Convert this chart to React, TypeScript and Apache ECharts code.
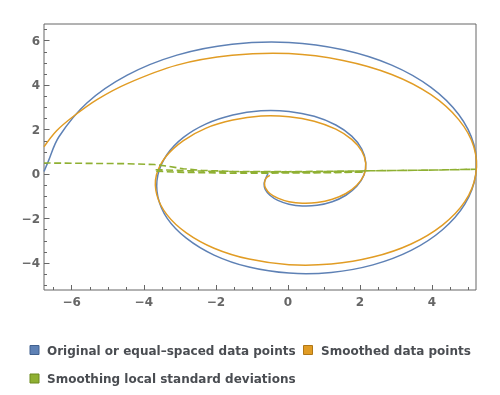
import React, { useEffect, useRef } from "react";
import * as echarts from "echarts";

// Original / equal-spaced data points (spiral)
const blueX = [-0.55, -0.62, -0.66, -0.63, -0.5, -0.28, 0.03, 0.4, 0.81, 1.23, 1.61, 1.91, 2.11, 2.16, 2.05, 1.77, 1.33, 0.73, 0.03, -0.75, -1.53, -2.27, -2.9, -3.36, -3.61, -3.61, -3.35, -2.82, -2.05, -1.08, 0.03, 1.2, 2.36, 3.42, 4.29, 4.91, 5.21, 5.16, 4.74, 3.97, 2.88, 1.53, 0.03, -1.55, -3.08, -4.46, -5.58, -6.36, -6.66, -6.77];
const blueY = [0.04, -0.21, -0.44, -0.69, -0.95, -1.18, -1.35, -1.43, -1.4, -1.24, -0.95, -0.55, -0.04, 0.53, 1.13, 1.71, 2.21, 2.6, 2.82, 2.85, 2.66, 2.26, 1.65, 0.87, -0.04, -1.01, -1.99, -2.88, -3.64, -4.18, -4.45, -4.42, -4.08, -3.43, -2.5, -1.35, -0.04, 1.34, 2.68, 3.9, 4.9, 5.59, 5.92, 5.84, 5.35, 4.45, 3.2, 1.67, 0.54, 0.12];

// Smoothed data points
const orangeX = [-0.5, -0.61, -0.65, -0.62, -0.5, -0.28, 0.03, 0.4, 0.81, 1.23, 1.61, 1.91, 2.11, 2.16, 2.05, 1.77, 1.33, 0.73, 0.03, -0.75, -1.53, -2.27, -2.9, -3.38, -3.65, -3.64, -3.36, -2.82, -2.05, -1.08, 0.03, 1.2, 2.36, 3.42, 4.29, 4.91, 5.21, 5.16, 4.74, 3.97, 2.88, 1.53, 0.03, -1.55, -3.08, -4.46, -5.3, -5.96, -6.42, -6.77];
const orangeY = [-0.06, -0.19, -0.4, -0.63, -0.87, -1.08, -1.24, -1.31, -1.28, -1.13, -0.87, -0.5, -0.04, 0.48, 1.03, 1.56, 2.02, 2.38, 2.58, 2.61, 2.43, 2.07, 1.51, 0.8, -0.04, -0.92, -1.82, -2.64, -3.33, -3.82, -4.07, -4.04, -3.73, -3.14, -2.29, -1.24, -0.04, 1.23, 2.45, 3.57, 4.48, 5.11, 5.42, 5.34, 4.9, 4.07, 3.35, 2.59, 1.95, 1.23];

// Smoothing local standard deviations
const greenX = [-0.55, -0.66, 0.0, 1.0, 2.11, 1.0, 0.0, -1.5, -2.9, -3.69, -3.69, -2.5, -1.0, 0.5, 2.3, 4.3, 5.21, 4.7, 2.9, 0.0, -1.5, -2.4, -2.9, -3.3, -3.7, -4.5, -6.77];
const greenY = [0.06, 0.07, 0.08, 0.08, 0.09, 0.06, 0.05, 0.04, 0.08, 0.13, 0.2, 0.14, 0.1, 0.1, 0.15, 0.19, 0.22, 0.2, 0.16, 0.11, 0.12, 0.17, 0.24, 0.35, 0.43, 0.47, 0.5];

const xMajorTicks = [-6, -4, -2, 0, 2, 4];
const xMinorTicks = [-6.5, -5.5, -5, -4.5, -3.5, -3, -2.5, -1.5, -1, -0.5, 0.5, 1, 1.5, 2.5, 3, 3.5, 4.5, 5];
const yMajorTicks = [-4, -2, 0, 2, 4, 6];
const yMinorTicks = [-5, -4.5, -3.5, -3, -2.5, -1.5, -1, -0.5, 0.5, 1, 1.5, 2.5, 3, 3.5, 4.5, 5, 5.5, 6.5];

const legendNames = [
  "Original or equal\u2013spaced data points",
  "Smoothed data points",
  "Smoothing local standard deviations",
];
const colors = ["#5E81B5", "#E19C24", "#8FB032"];
const borderColors = ["#41618f", "#b07716", "#6c8a1f"];

const X_MIN = -6.77;
const X_MAX = 5.22;
const Y_MIN = -5.21;
const Y_MAX = 6.75;

const fmt = (v: number) => (v < 0 ? "\u2212" + Math.abs(v) : String(v));
const pairs = (xs: number[], ys: number[]) => xs.map((x, i) => [x, ys[i]]);

const labelFont = {
  fontFamily: "DejaVu Sans",
  fontWeight: "bold" as const,
  fontSize: 12,
  color: "#666666",
};

// A smooth curve through all points of a series, positioned with the axes' scales
function curveSeries(name: string, data: number[][], color: string) {
  return {
    name,
    type: "custom" as const,
    coordinateSystem: "cartesian2d",
    xAxisIndex: 0,
    yAxisIndex: 0,
    encode: { x: 0, y: 1 },
    data,
    silent: true,
    renderItem: (params: any, api: any) => {
      if (params.dataIndex !== 0) return null;
      const pts = data.map((d) => api.coord(d));
      return {
        type: "polyline",
        shape: { points: pts, smooth: 0.34 },
        style: { stroke: color, lineWidth: 1.5, fill: null },
        silent: true,
      };
    },
  };
}

export default function App() {
  const ref = useRef<HTMLDivElement>(null);
  useEffect(() => {
    const chart = echarts.init(ref.current!, null, { renderer: "svg" });
    const legendPos = [
      { rx: 30, ry: 345.5, tx: 47, ty: 350.5 },
      { rx: 303.5, ry: 345.5, tx: 321, ty: 350.5 },
      { rx: 30, ry: 374, tx: 47, ty: 379 },
    ];
    const graphic: any[] = [];
    legendNames.forEach((name, i) => {
      const p = legendPos[i];
      graphic.push({
        type: "rect",
        shape: { x: p.rx, y: p.ry, width: 9, height: 9 },
        style: { fill: colors[i], stroke: borderColors[i], lineWidth: 1 },
        silent: true,
      });
      graphic.push({
        type: "text",
        x: p.tx,
        y: p.ty,
        style: {
          text: name,
          fontFamily: "DejaVu Sans",
          fontWeight: "bold",
          fontSize: 12,
          fill: "#4a4d52",
          verticalAlign: "middle",
          align: "left",
        },
        silent: true,
      });
    });

    const baseX = {
      type: "value" as const,
      min: X_MIN,
      max: X_MAX,
      position: "bottom" as const,
      axisLine: { show: false, onZero: false },
      splitLine: { show: false },
    };
    const baseY = {
      type: "value" as const,
      min: Y_MIN,
      max: Y_MAX,
      position: "left" as const,
      axisLine: { show: false, onZero: false },
      splitLine: { show: false },
    };

    chart.setOption({
      animation: false,
      grid: {
        left: 44,
        right: 24,
        top: 24,
        bottom: 105,
        show: true,
        borderColor: "#666666",
        borderWidth: 1,
        backgroundColor: "transparent",
      },
      xAxis: [
        {
          ...baseX,
          axisTick: {
            show: true,
            inside: true,
            length: 5,
            customValues: xMajorTicks,
            lineStyle: { color: "#666666" },
          },
          axisLabel: {
            ...labelFont,
            margin: 6,
            customValues: xMajorTicks,
            formatter: fmt,
          },
        },
        {
          ...baseX,
          axisTick: {
            show: true,
            inside: true,
            length: 3,
            customValues: xMinorTicks,
            lineStyle: { color: "#666666" },
          },
          axisLabel: { show: false },
        },
      ],
      yAxis: [
        {
          ...baseY,
          axisTick: {
            show: true,
            inside: true,
            length: 5.5,
            customValues: yMajorTicks,
            lineStyle: { color: "#666666" },
          },
          axisLabel: {
            ...labelFont,
            margin: 4,
            customValues: yMajorTicks,
            formatter: fmt,
          },
        },
        {
          ...baseY,
          axisTick: {
            show: true,
            inside: true,
            length: 3,
            customValues: yMinorTicks,
            lineStyle: { color: "#666666" },
          },
          axisLabel: { show: false },
        },
      ],
      series: [
        curveSeries(legendNames[0], pairs(blueX, blueY), colors[0]),
        curveSeries(legendNames[1], pairs(orangeX, orangeY), colors[1]),
        {
          name: legendNames[2],
          type: "line",
          xAxisIndex: 0,
          yAxisIndex: 0,
          data: pairs(greenX, greenY),
          showSymbol: false,
          symbol: "none",
          smooth: false,
          lineStyle: { color: colors[2], width: 1.6, type: [7, 3.5] },
          silent: true,
        },
      ],
      graphic,
    });
    return () => chart.dispose();
  }, []);
  return (
    <div
      ref={ref}
      style={{ position: "fixed", left: 0, top: 0, width: 500, height: 395 }}
    />
  );
}
